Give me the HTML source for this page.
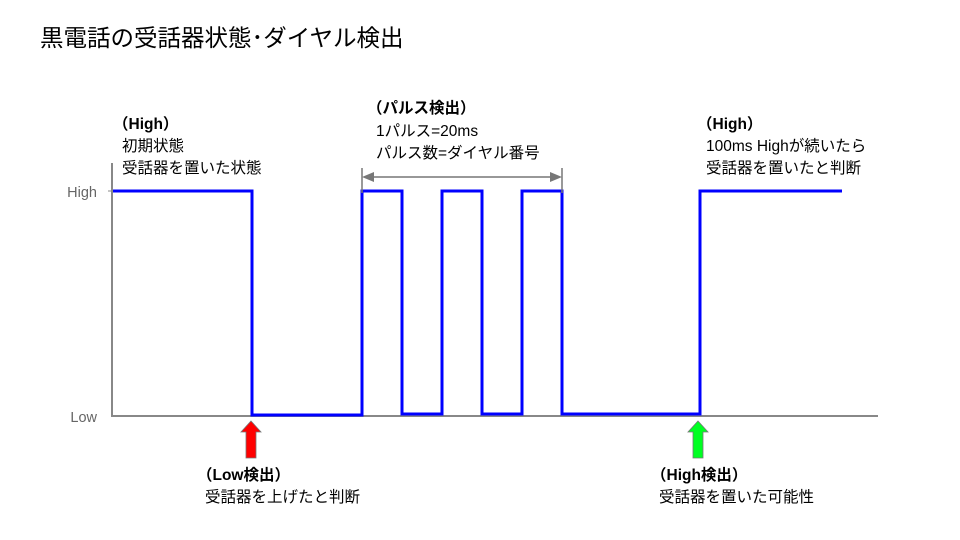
<!DOCTYPE html>
<html><head><meta charset="utf-8"><style>
body{margin:0;background:#fff;}
svg{display:block;font-family:"Liberation Sans","Noto Sans CJK JP",sans-serif;}
</style></head><body>
<svg width="960" height="540" viewBox="0 0 960 540">
<text x="40" y="46" font-size="23.5" fill="#000">黒電話の受話器状態･ダイヤル検出</text>
<line x1="112" y1="163" x2="112" y2="417" stroke="#888" stroke-width="2"/>
<line x1="112" y1="416" x2="878" y2="416" stroke="#888" stroke-width="2"/>
<line x1="108" y1="191" x2="112" y2="191" stroke="#888" stroke-width="1"/>
<text x="97" y="197" font-size="14.5" fill="#666" text-anchor="end">High</text>
<text x="97" y="422" font-size="14.5" fill="#666" text-anchor="end">Low</text>
<polyline fill="none" stroke="#0000ff" stroke-width="3" points="113,191 252,191 252,415 362,415 362,191 402,191 402,414 442,414 442,191 482,191 482,414 522,414 522,191 562,191 562,414 700,414 700,191 842,191"/>
<line x1="362" y1="168" x2="362" y2="193" stroke="#777" stroke-width="1.5"/>
<line x1="562" y1="168" x2="562" y2="193" stroke="#777" stroke-width="1.5"/>
<line x1="368" y1="177" x2="556" y2="177" stroke="#777" stroke-width="1.5"/>
<polygon points="362,177 374,172 374,182" fill="#777"/>
<polygon points="562,177 550,172 550,182" fill="#777"/>
<polygon points="251,421 261,432 256,432 256,458 246,458 246,432 241,432" fill="#ff0000" stroke="#777" stroke-width="0.8"/>
<polygon points="698,421 708,432 703,432 703,458 693,458 693,432 688,432" fill="#00ff22" stroke="#777" stroke-width="0.8"/>
<g font-size="15.5" fill="#000">
<text x="113" y="129" font-weight="bold">（High）</text>
<text x="122" y="151">初期状態</text>
<text x="122" y="173">受話器を置いた状態</text>
<text x="367" y="113" font-weight="bold">（パルス検出）</text>
<text x="376" y="136">1パルス=20ms</text>
<text x="376" y="158">パルス数=ダイヤル番号</text>
<text x="697" y="129" font-weight="bold">（High）</text>
<text x="706" y="151">100ms Highが続いたら</text>
<text x="706" y="173">受話器を置いたと判断</text>
<text x="197" y="480" font-weight="bold">（Low検出）</text>
<text x="205" y="502">受話器を上げたと判断</text>
<text x="651" y="480" font-weight="bold">（High検出）</text>
<text x="659" y="502">受話器を置いた可能性</text>
</g>
</svg>
</body></html>
